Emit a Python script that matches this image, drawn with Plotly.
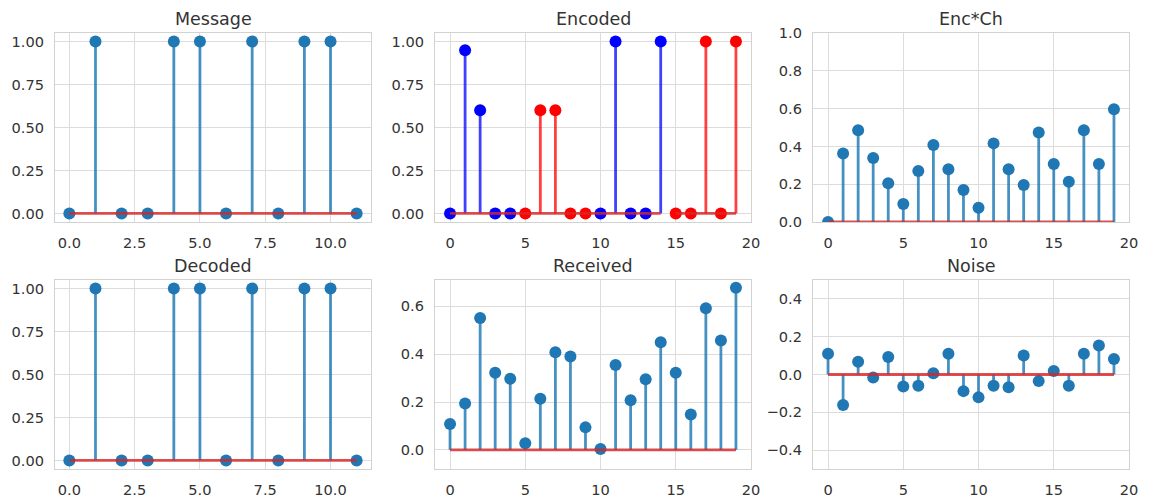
import plotly.graph_objects as go

W, H = 1156, 498

# ---------------- data ----------------
message = [0, 1, 0, 0, 1, 1, 0, 1, 0, 1, 1, 0]
decoded = [0, 1, 0, 0, 1, 1, 0, 1, 0, 1, 1, 0]
encoded = [0, 0.95, 0.60, 0, 0, 0, 0.60, 0.60, 0, 0,
           0, 1.0, 0, 0, 1.0, 0, 0, 1.0, 0, 1.0]
encoded_colors = ["b"] * 5 + ["r"] * 5 + ["b"] * 5 + ["r"] * 5
encoded_baselines = [(0, 14), (15, 19)]
enc_ch = [0.0, 0.363, 0.485, 0.339, 0.205, 0.095, 0.270, 0.407, 0.279, 0.169,
          0.076, 0.416, 0.279, 0.196, 0.474, 0.307, 0.213, 0.485, 0.307, 0.596]
received = [0.108, 0.194, 0.551, 0.322, 0.297, 0.028, 0.214, 0.408, 0.390, 0.094,
            0.004, 0.355, 0.207, 0.295, 0.450, 0.322, 0.148, 0.592, 0.457, 0.678]
noise = [0.110, -0.161, 0.067, -0.016, 0.093, -0.063, -0.060, 0.007, 0.110, -0.088,
         -0.121, -0.060, -0.068, 0.100, -0.035, 0.018, -0.060, 0.110, 0.153, 0.082]

titles = ["Message", "Encoded", "Enc*Ch", "Decoded", "Received", "Noise"]

# ---------------- style ----------------
C0 = "#1f77b4"
C0_STEM = "rgba(31,119,180,0.82)"
C3_BASE = "rgba(214,39,40,0.82)"
COLOR_MAP = {"b": ("#0000ff", "rgba(0,0,255,0.75)"), "r": ("#ff0000", "rgba(255,0,0,0.75)")}
TEXT = "#333333"
GRID = "#dcdcdc"
FRAME = "#d2d2d2"
MS = 12
LW = 2.8

cols_px = [(55, 371), (435, 751), (813, 1129)]
rows_px = [(33, 222), (280, 469)]

fig = go.Figure()


def stem_xy(xs, ys):
    sx, sy = [], []
    for x, y in zip(xs, ys):
        sx += [x, x, None]
        sy += [0, y, None]
    return sx, sy


def add_stem(idx, xs, ys, marker_color=C0, stem_color=C0_STEM, baseline=True):
    ax = "" if idx == 1 else str(idx)
    sx, sy = stem_xy(xs, ys)
    fig.add_trace(go.Scatter(x=sx, y=sy, mode="lines", line=dict(color=stem_color, width=LW),
                             xaxis="x" + ax, yaxis="y" + ax, showlegend=False, hoverinfo="skip"))
    fig.add_trace(go.Scatter(x=xs, y=ys, mode="markers", marker=dict(color=marker_color, size=MS),
                             xaxis="x" + ax, yaxis="y" + ax, showlegend=False))
    if baseline:
        fig.add_trace(go.Scatter(x=[min(xs), max(xs)], y=[0, 0], mode="lines",
                                 line=dict(color=C3_BASE, width=LW),
                                 xaxis="x" + ax, yaxis="y" + ax, showlegend=False, hoverinfo="skip"))


# Message
add_stem(1, list(range(len(message))), message)
# Encoded (coloured stems)
enc_x = list(range(len(encoded)))
for key in ["b", "r"]:
    xs = [x for x, c in zip(enc_x, encoded_colors) if c == key]
    ys = [encoded[x] for x in xs]
    mc, sc = COLOR_MAP[key]
    add_stem(2, xs, ys, marker_color=mc, stem_color=sc, baseline=False)
for a, b in encoded_baselines:
    fig.add_trace(go.Scatter(x=[a, b], y=[0, 0], mode="lines", line=dict(color=C3_BASE, width=LW),
                             xaxis="x2", yaxis="y2", showlegend=False, hoverinfo="skip"))
# Enc*Ch
add_stem(3, list(range(len(enc_ch))), enc_ch)
# Decoded
add_stem(4, list(range(len(decoded))), decoded)
# Received
add_stem(5, list(range(len(received))), received)
# Noise
add_stem(6, list(range(len(noise))), noise)

xranges = [[-0.55, 11.55], [-1, 20], [-1, 20], [-0.55, 11.55], [-1, 20], [-1, 20]]
yranges = [[-0.05, 1.05], [-0.05, 1.05], [0, 1.0], [-0.05, 1.05], [-0.08, 0.71], [-0.5, 0.5]]
xdticks = [2.5, 5, 5, 2.5, 5, 5]
xfmt = [".1f", "d", "d", ".1f", "d", "d"]
ydticks = [0.25, 0.25, 0.2, 0.25, 0.2, 0.2]
yfmt = [".2f", ".2f", ".1f", ".2f", ".1f", ".1f"]
ytick0 = [0, 0, 0, 0, 0, -0.4]

layout = {}
annotations = []
for i in range(6):
    r, c = divmod(i, 3)
    x0, x1 = cols_px[c]
    y0, y1 = rows_px[r]
    n = "" if i == 0 else str(i + 1)
    common = dict(showgrid=True, gridcolor=GRID, gridwidth=1.2, zeroline=False,
                  showline=True, linecolor=FRAME, linewidth=1.2, mirror=True,
                  automargin=False,
                  ticks="outside", ticklen=7, tickcolor="rgba(0,0,0,0)",
                  tickfont=dict(family="DejaVu Sans", size=14.6, color=TEXT))
    layout["xaxis" + n] = dict(domain=[x0 / W, x1 / W], anchor="y" + n, range=xranges[i],
                               tick0=0, dtick=xdticks[i], tickformat=xfmt[i], **common)
    layout["yaxis" + n] = dict(domain=[1 - y1 / H, 1 - y0 / H], anchor="x" + n, range=yranges[i],
                               tick0=ytick0[i], dtick=ydticks[i], tickformat=yfmt[i], **common)
    annotations.append(dict(text=titles[i], x=(x0 + x1) / 2 / W, y=1 - y0 / H,
                            xref="paper", yref="paper", xanchor="center", yanchor="bottom",
                            yshift=2, showarrow=False,
                            font=dict(family="DejaVu Sans", size=17.5, color=TEXT)))

fig.update_layout(width=W, height=H, margin=dict(l=0, r=0, t=0, b=0, autoexpand=False),
                  paper_bgcolor="white", plot_bgcolor="white",
                  annotations=annotations, **layout)

fig.write_html("out.html")
